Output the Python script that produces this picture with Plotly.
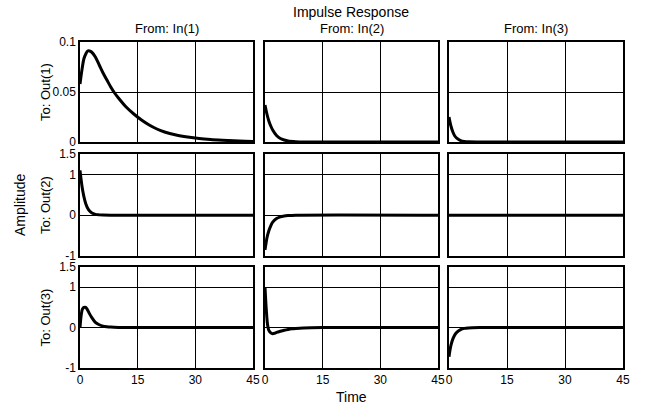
import plotly.graph_objects as go
from plotly.subplots import make_subplots

# ---- data ----
t11 = [0, 0.5, 1, 1.5, 2, 2.5, 3, 4, 5, 6, 7, 8, 9, 10, 12, 14, 16, 18, 20, 22, 25, 28, 31, 34, 37, 40, 43, 45]
y11 = [0.058, 0.072, 0.083, 0.088, 0.091, 0.091, 0.090, 0.085, 0.077, 0.069, 0.062, 0.055, 0.049, 0.044,
       0.035, 0.028, 0.022, 0.017, 0.013, 0.010, 0.007, 0.005, 0.0035, 0.0025, 0.0018, 0.0012, 0.0008, 0.0006]

t12 = [0, 0.5, 1, 1.5, 2, 3, 4, 5, 6, 8, 10, 45]
y12 = [0.037, 0.028, 0.021, 0.016, 0.012, 0.0065, 0.0035, 0.002, 0.001, 0.0003, 0.0, 0.0]

t13 = [0, 0.5, 1, 1.5, 2, 3, 4, 5, 45]
y13 = [0.025, 0.016, 0.010, 0.006, 0.0038, 0.0014, 0.0005, 0.0002, 0.0]

t21 = [0, 0.25, 0.5, 0.75, 1, 1.5, 2, 2.5, 3, 4, 5, 6, 8, 45]
y21 = [1.1, 0.9, 0.72, 0.58, 0.46, 0.28, 0.17, 0.1, 0.06, 0.02, 0.008, 0.003, 0.0, 0.0]

t22 = [0, 0.25, 0.5, 1, 1.5, 2, 3, 4, 5, 6, 8, 45]
y22 = [-0.85, -0.7, -0.56, -0.38, -0.26, -0.17, -0.08, -0.04, -0.02, -0.01, 0.0, 0.0]

t23 = [0, 45]
y23 = [0.0, 0.0]

t31 = [0, 0.3, 0.6, 1, 1.5, 2, 2.5, 3, 4, 5, 6, 7, 8, 10, 12, 45]
y31 = [0.0, 0.3, 0.45, 0.5, 0.5, 0.43, 0.34, 0.26, 0.13, 0.07, 0.035, 0.02, 0.012, 0.004, 0.0, 0.0]

t32 = [0, 0.2, 0.4, 0.6, 0.8, 1, 1.5, 2, 2.5, 3, 4, 5, 6, 7, 8, 10, 12, 15, 45]
y32 = [1.0, 0.65, 0.35, 0.12, 0.0, -0.07, -0.13, -0.15, -0.14, -0.12, -0.09, -0.065, -0.045, -0.03,
       -0.02, -0.008, -0.003, 0.0, 0.0]

t33 = [0, 0.25, 0.5, 1, 1.5, 2, 3, 4, 5, 6, 8, 45]
y33 = [-0.72, -0.56, -0.44, -0.28, -0.18, -0.12, -0.05, -0.02, -0.008, -0.003, 0.0, 0.0]

series = [[(t11, y11), (t12, y12), (t13, y13)],
          [(t21, y21), (t22, y22), (t23, y23)],
          [(t31, y31), (t32, y32), (t33, y33)]]

col_titles = ["From: In(1)", "From: In(2)", "From: In(3)"]
row_titles = ["To: Out(1)", "To: Out(2)", "To: Out(3)"]
x_ticks = [0, 15, 30, 45]
y_ticks_row1 = [0, 0.05, 0.1]
y_labels_row1 = ["0", "0.05", "0.1"]
y_ticks_other = [-1, 0, 1, 1.5]
y_labels_other = ["-1", "0", "1", "1.5"]

FONT = "Arial, Liberation Sans, sans-serif"
W, H = 645, 409

fig = make_subplots(rows=3, cols=3)

# panel edges in page pixels
xdom = [(80, 253), (265, 438), (449, 623)]
ydom = [(42, 142), (154, 256), (267, 368)]

def fx(px):
    return px / W

def fy(py):
    return 1 - py / H

for r in range(3):
    for c in range(3):
        t, y = series[r][c]
        fig.add_trace(go.Scatter(x=t, y=y, mode="lines",
                                 line=dict(color="black", width=3, shape="spline", smoothing=0.8),
                                 showlegend=False, hoverinfo="skip"),
                      row=r + 1, col=c + 1)
        idx = r * 3 + c + 1
        xa = "xaxis" if idx == 1 else f"xaxis{idx}"
        ya = "yaxis" if idx == 1 else f"yaxis{idx}"
        x0, x1 = xdom[c]
        y0, y1 = ydom[r]
        fig.layout[xa].update(
            domain=[fx(x0), fx(x1)], range=[0, 45],
            tickvals=x_ticks, ticktext=[str(v) for v in x_ticks],
            showticklabels=(r == 2), showgrid=True, gridcolor="black", gridwidth=1,
            zeroline=False, showline=True, linecolor="black", linewidth=1.5, mirror=True,
            ticks="", automargin=False, tickfont=dict(family=FONT, size=12, color="black"),
        )
        if r == 0:
            yr, yt, ytt = [0, 0.1], y_ticks_row1, y_labels_row1
        else:
            yr, yt, ytt = [-1, 1.5], y_ticks_other, y_labels_other
        fig.layout[ya].update(
            domain=[fy(y1), fy(y0)], range=yr,
            tickvals=yt, ticktext=ytt,
            showticklabels=(c == 0), showgrid=True, gridcolor="black", gridwidth=1,
            zeroline=False, showline=True, linecolor="black", linewidth=1.5, mirror=True,
            ticks="", automargin=False, tickfont=dict(family=FONT, size=12, color="black"),
        )

ann = []
def add_text(text, x, y, size=12, angle=0):
    ann.append(dict(text=text, x=fx(x), y=fy(y), xref="paper", yref="paper",
                    showarrow=False, textangle=angle, xanchor="center", yanchor="middle",
                    font=dict(family=FONT, size=size, color="black")))

add_text("Impulse Response", 351, 12, size=14)
for c, title in enumerate(col_titles):
    add_text(title, (xdom[c][0] + xdom[c][1]) / 2, 29, size=13)
for r, title in enumerate(row_titles):
    add_text(title, 45, (ydom[r][0] + ydom[r][1]) / 2, size=13, angle=-90)
add_text("Amplitude", 20, 205, size=14, angle=-90)
add_text("Time", 351, 397, size=14)

fig.update_layout(width=W, height=H,
                  margin=dict(l=0, r=0, t=0, b=0, pad=0, autoexpand=False),
                  paper_bgcolor="white", plot_bgcolor="white", annotations=ann,
                  font=dict(family=FONT, color="black"))

fig.write_html("out.html", config={"displayModeBar": False},
               post_script="document.body.style.margin='0';document.body.style.overflow='hidden';")
